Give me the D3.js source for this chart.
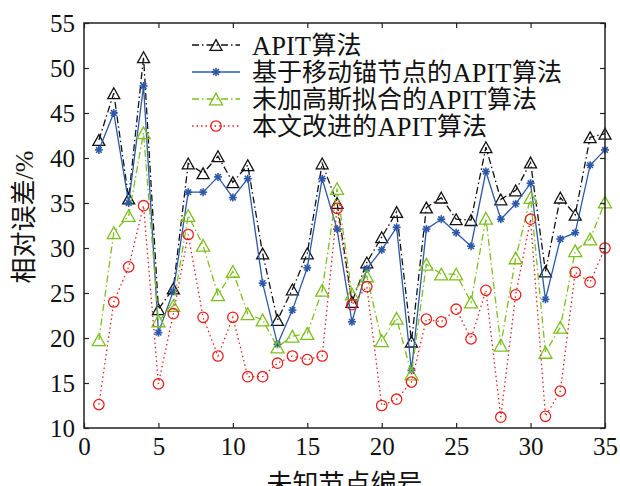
<!DOCTYPE html>
<html>
<head>
<meta charset="utf-8">
<script src="https://cdn.jsdelivr.net/npm/d3@7"></script>
<style>
  html, body { margin: 0; padding: 0; background: #fff; }
  svg { display: block; }
  .serif { font-family: "Liberation Serif", "Times New Roman", serif; }
  .cjk { font-family: "Noto Sans CJK SC", sans-serif; }
</style>
</head>
<body>
<svg id="chart" width="620" height="486"></svg>
<script>
// node ids on the x axis
const nodes = d3.range(1, 36);

// relative error (%)
const apit = [42.0, 47.2, 35.5, 51.2, 23.2, 25.5, 39.4, 38.3, 40.2, 37.3,
  39.2, 29.4, 22.0, 25.4, 29.4, 39.4, 35.0, 24.0, 28.4, 31.2,
  34.0, 19.6, 34.5, 35.6, 33.2, 33.1, 41.2, 35.4, 36.4, 39.5,
  27.4, 35.6, 33.7, 42.3, 42.7];
const mobileApit = [40.9, 45.0, 35.0, 48.0, 20.6, 25.2, 36.2, 36.2, 37.9, 35.6,
  37.7, 26.1, 19.3, 23.1, 27.8, 37.7, 32.1, 21.8, 27.7, 29.8,
  32.3, 16.4, 32.1, 33.2, 31.7, 30.2, 38.5, 33.2, 34.9, 37.2,
  24.3, 31.0, 31.7, 39.2, 40.9];
const noGaussApit = [19.8, 31.7, 33.6, 42.8, 21.9, 23.6, 33.6, 30.3, 24.8, 27.4,
  22.7, 22.0, 19.0, 20.2, 20.5, 25.3, 36.6, 24.9, 26.9, 19.7,
  22.2, 16.0, 28.2, 27.1, 27.1, 24.0, 33.3, 19.2, 28.9, 35.6,
  18.4, 21.2, 29.7, 31.0, 35.1];
const improvedApit = [12.6, 24.0, 27.9, 34.7, 14.9, 22.7, 31.5, 22.3, 18.0, 22.3,
  15.7, 15.7, 17.2, 18.0, 17.6, 18.0, 34.4, 23.7, 25.7, 12.5,
  13.2, 15.1, 22.1, 21.8, 23.2, 19.9, 25.3, 11.2, 24.8, 33.2,
  11.3, 14.1, 27.3, 26.2, 30.0];

const xTicks = [0, 5, 10, 15, 20, 25, 30, 35];
const yTicks = [10, 15, 20, 25, 30, 35, 40, 45, 50, 55];

const legendLabels = [
  ["APIT", "算法"],
  ["基于移动锚节点的", "APIT", "算法"],
  ["未加高斯拟合的", "APIT", "算法"],
  ["本文改进的", "APIT", "算法"]
];

const series = [
  { values: apit, color: "#111111", dash: "7,3,1.5,3", marker: "tri", size: 12 },
  { values: mobileApit, color: "#2b58a8", dash: null, marker: "star", size: 8 },
  { values: noGaussApit, color: "#7cbf1e", dash: "7,3,1.5,3", marker: "tri", size: 13 },
  { values: improvedApit, color: "#e3221e", dash: "1.5,3", marker: "circle", size: 5.2 }
];

const svg = d3.select("#chart");
const margin = { left: 84, right: 15, top: 23, bottom: 58 };
const W = 620, H = 486;
const x = d3.scaleLinear().domain([0, 35]).range([margin.left, W - margin.right]);
const y = d3.scaleLinear().domain([10, 55]).range([H - margin.bottom, margin.top]);

// marker drawing
function drawMarker(g, type, size, color) {
  if (type === "tri") {
    const w = size, h = size * 0.9;
    g.append("path")
      .attr("d", `M0,${-h / 2}L${w / 2},${h / 2}L${-w / 2},${h / 2}Z`)
      .attr("fill", "none").attr("stroke", color).attr("stroke-width", 1.3);
  } else if (type === "circle") {
    g.append("circle").attr("r", size)
      .attr("fill", "none").attr("stroke", color).attr("stroke-width", 1.3);
  } else {
    const r = size / 2;
    [0, 45, 90, 135].forEach(a => {
      const rad = a * Math.PI / 180;
      g.append("line")
        .attr("x1", -r * Math.cos(rad)).attr("y1", -r * Math.sin(rad))
        .attr("x2", r * Math.cos(rad)).attr("y2", r * Math.sin(rad))
        .attr("stroke", color).attr("stroke-width", 1.6);
    });
  }
}

const line = d3.line().x((d, i) => x(nodes[i])).y(d => y(d));

series.forEach(s => {
  svg.append("path")
    .attr("d", line(s.values))
    .attr("fill", "none")
    .attr("stroke", s.color)
    .attr("stroke-width", 1.3)
    .attr("stroke-dasharray", s.dash);
  s.values.forEach((v, i) => {
    const g = svg.append("g").attr("transform", `translate(${x(nodes[i])},${y(v)})`);
    drawMarker(g, s.marker, s.size, s.color);
  });
});

// axes with inward ticks on all sides
const axisColor = "#222";
const tickLen = 5;
svg.append("g").attr("transform", `translate(0,${y(10)})`)
  .call(d3.axisBottom(x).tickValues(xTicks).tickSizeInner(-tickLen).tickSizeOuter(0).tickPadding(9))
  .call(g => g.select(".domain").remove());
svg.append("g").attr("transform", `translate(0,${y(55)})`)
  .call(d3.axisTop(x).tickValues(xTicks).tickSizeInner(-tickLen).tickSizeOuter(0).tickFormat(""))
  .call(g => g.select(".domain").remove());
svg.append("g").attr("transform", `translate(${x(0)},0)`)
  .call(d3.axisLeft(y).tickValues(yTicks).tickSizeInner(-tickLen).tickSizeOuter(0).tickPadding(9))
  .call(g => g.select(".domain").remove());
svg.append("g").attr("transform", `translate(${x(35)},0)`)
  .call(d3.axisRight(y).tickValues(yTicks).tickSizeInner(-tickLen).tickSizeOuter(0).tickFormat(""))
  .call(g => g.select(".domain").remove());

svg.selectAll(".tick line").attr("stroke", axisColor).attr("stroke-width", 1.2);
svg.selectAll(".tick text")
  .attr("class", "serif")
  .attr("font-size", 25)
  .attr("fill", "#111");

svg.append("rect")
  .attr("x", x(0)).attr("y", y(55))
  .attr("width", x(35) - x(0)).attr("height", y(10) - y(55))
  .attr("fill", "none").attr("stroke", axisColor).attr("stroke-width", 1.5);

// axis titles
svg.append("text")
  .attr("class", "cjk")
  .attr("x", (x(0) + x(35)) / 2).attr("y", 493)
  .attr("text-anchor", "middle")
  .attr("font-size", 26).attr("fill", "#111")
  .text("未知节点编号");

const yTitle = svg.append("text")
  .attr("transform", "translate(33,217) rotate(-90)")
  .attr("text-anchor", "middle")
  .attr("font-size", 26).attr("fill", "#111");
yTitle.append("tspan").attr("class", "cjk").text("相对误差");
yTitle.append("tspan").attr("class", "serif").text("/%");

// legend
const legend = svg.append("g").attr("transform", "translate(192,45)");
series.forEach((s, i) => {
  const row = legend.append("g").attr("transform", `translate(0,${i * 27})`);
  row.append("line")
    .attr("x1", 0).attr("x2", 48).attr("y1", 0).attr("y2", 0)
    .attr("stroke", s.color).attr("stroke-width", 1.3)
    .attr("stroke-dasharray", s.dash);
  const m = row.append("g").attr("transform", "translate(24,0)");
  drawMarker(m, s.marker, s.size, s.color);
  // each run of latin / cjk text is its own element, laid out left to right
  let cx = 60;
  legendLabels[i].forEach(part => {
    const latin = /^[A-Z]+$/.test(part);
    const t = row.append("text")
      .attr("class", latin ? "serif" : "cjk")
      .attr("x", cx).attr("y", 0).attr("dy", "0.36em")
      .attr("font-size", latin ? 26.5 : 25)
      .attr("fill", "#111")
      .text(part);
    cx += t.node().getComputedTextLength() + 0.5;
  });
});
</script>
</body>
</html>
